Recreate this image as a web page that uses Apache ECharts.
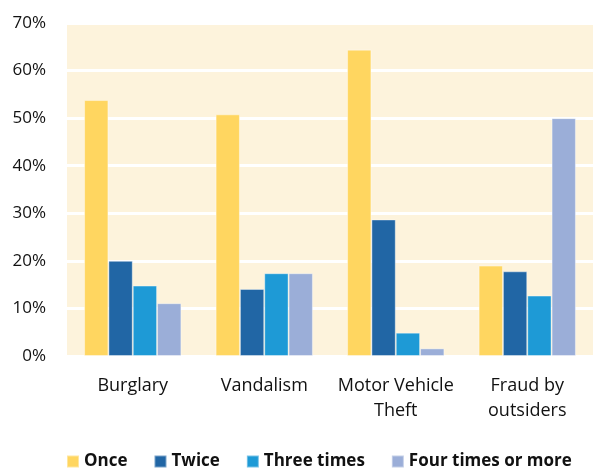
<!DOCTYPE html>
<html>
<head>
<meta charset="utf-8">
<script src="https://cdn.jsdelivr.net/npm/echarts@6/dist/echarts.min.js"></script>
<style>
html,body{margin:0;padding:0;background:#fff;}
#chart{width:594px;height:470px;}
</style>
</head>
<body>
<div id="chart"></div>
<script>
const categories = ['Burglary', 'Vandalism', 'Motor Vehicle\nTheft', 'Fraud by\noutsiders'];
const seriesNames = ['Once', 'Twice', 'Three times', 'Four times or more'];
const once = [53.8, 50.8, 64.4, 19.0];
const twice = [20.0, 14.1, 28.7, 17.8];
const threeTimes = [14.8, 17.4, 4.9, 12.7];
const fourTimes = [11.1, 17.4, 1.6, 50.0];
const colors = ['#FFD660', '#2166A5', '#1E9AD6', '#9BAED8'];
const yTicks = [0, 10, 20, 30, 40, 50, 60, 70];

const FONT = 'Open Sans';
const chart = echarts.init(document.getElementById('chart'), null, {renderer: 'canvas'});
const values = [once, twice, threeTimes, fourTimes];
chart.setOption({
  animation: false,
  backgroundColor: '#ffffff',
  textStyle: {fontFamily: FONT},
  grid: {left: 67, right: 1, top: 23, bottom: 114, backgroundColor: '#FDF3DC', show: true, borderWidth: 0},
  legend: {
    left: 61, top: 448,
    itemWidth: 12, itemHeight: 12, itemGap: 26,
    icon: 'rect',
    textStyle: {fontFamily: FONT, fontSize: 17, fontWeight: 'bold', color: '#111', padding: [0, 0, 0, 0]},
    data: seriesNames
  },
  xAxis: {
    type: 'category',
    data: categories,
    axisLine: {show: false},
    axisTick: {show: false},
    axisLabel: {interval: 0, fontFamily: FONT, fontSize: 18, color: '#111', margin: 17, lineHeight: 25}
  },
  yAxis: {
    type: 'value',
    min: yTicks[0], max: yTicks[yTicks.length - 1], interval: 10,
    axisLine: {show: false},
    axisTick: {show: false},
    splitLine: {lineStyle: {color: '#ffffff', width: 3}},
    axisLabel: {fontFamily: FONT, fontSize: 17, color: '#111', margin: 21, formatter: v => v + '%'}
  },
  series: seriesNames.map((n, i) => ({
    name: n,
    type: 'bar',
    data: values[i],
    barGap: '0%',
    barCategoryGap: '26%',
    itemStyle: {color: colors[i], borderColor: 'rgba(255,255,255,0.4)', borderWidth: 1}
  }))
});
</script>
</body>
</html>
